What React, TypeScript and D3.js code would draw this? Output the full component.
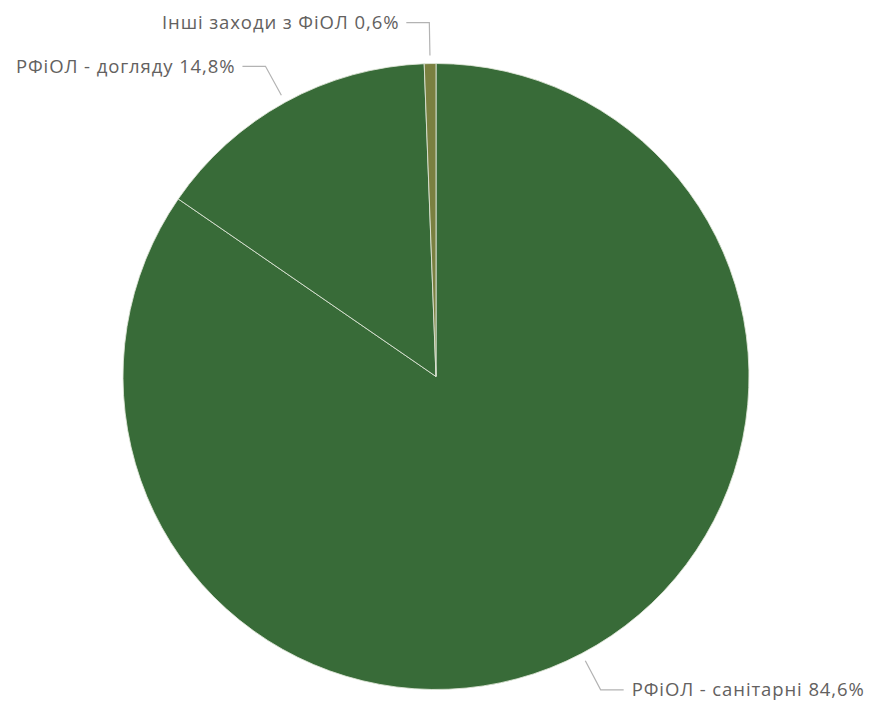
import React from "react";
import * as d3 from "d3";

const categories = ["РФіОЛ - санітарні", "РФіОЛ - догляду", "Інші заходи з ФіОЛ"];
const values = [84.6, 14.8, 0.6];
const valueLabels = ["84,6%", "14,8%", "0,6%"];
const colors = ["#386b38", "#386b38", "#7a8040"];

const W = 870;
const H = 704;
const cx = 436;
const cy = 376.5;
const R = 313;

export default function App() {
  const data = categories.map((c, i) => ({ c, v: values[i], lab: valueLabels[i], col: colors[i] }));
  const pie = d3.pie<any>().value((d) => d.v).sort(null);
  const arcs = pie(data);
  const arc = d3.arc<any>().innerRadius(0).outerRadius(R);
  const rIn = R + 8;
  const rOut = R + 41;
  return (
    <svg width={W} height={H} style={{ position: "absolute", left: 0, top: 0, fontFamily: "'Segoe UI', 'Open Sans', sans-serif" }}>
      <g transform={`translate(${cx},${cy})`}>
        {arcs.map((a, i) => (
          <path key={i} d={arc(a) as string} fill={a.data.col} stroke="#dfe6d8" strokeWidth={1} strokeOpacity={0.85} />
        ))}
        {arcs.map((a, i) => {
          const mid = (a.startAngle + a.endAngle) / 2;
          const p1 = [Math.sin(mid) * rIn, -Math.cos(mid) * rIn];
          const p2 = [Math.sin(mid) * rOut, -Math.cos(mid) * rOut];
          const right = Math.sin(mid) > 0.05;
          const p3 = [p2[0] + (right ? 23 : -23), p2[1]];
          const tx = p3[0] + (right ? 8 : -7);
          return (
            <g key={"l" + i}>
              <polyline points={[p1, p2, p3].map((p) => p.join(",")).join(" ")} fill="none" stroke="#b3b3b3" strokeWidth={1.2} />
              <text x={tx} y={p3[1]} dy="0.35em" textAnchor={right ? "start" : "end"} fontSize={18.5} letterSpacing={0.9} fill="#636160">
                {a.data.c} {a.data.lab}
              </text>
            </g>
          );
        })}
      </g>
    </svg>
  );
}
